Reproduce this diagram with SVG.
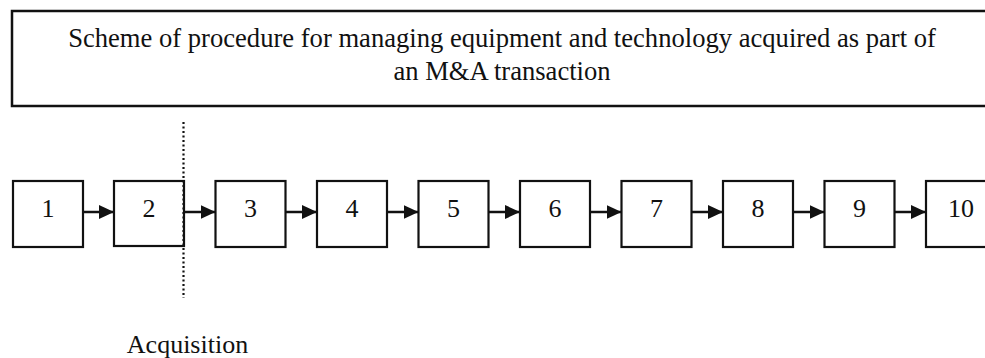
<svg xmlns="http://www.w3.org/2000/svg" width="985" height="358" viewBox="0 0 985 358">
  <style>
    .frame { fill: #fff; stroke: #111; stroke-width: 2.5; }
    .box { fill: #fff; stroke: #111; stroke-width: 2.2; }
    .lbl { font-family: "Liberation Serif", "Times New Roman", serif; font-size: 26px; fill: #111; text-anchor: middle; }
    .head { font-size: 26.6px; }
    .arrow { stroke: #111; stroke-width: 2.5; fill: none; marker-end: url(#head); }
    .divider { stroke: #111; stroke-width: 2.2; stroke-dasharray: 2 2.5; fill: none; }
  </style>
  <defs>
    <marker id="head" markerUnits="userSpaceOnUse" markerWidth="16" markerHeight="14" refX="15" refY="7" orient="auto">
      <path d="M0,0 L15,7 L0,14 Z" fill="#111"/>
    </marker>
  </defs>

  <rect width="985" height="358" fill="#fff"/>

  <!-- title panel -->
  <g id="title">
    <rect class="frame" x="12" y="11" width="990" height="95"/>
    <text class="lbl head" x="502" y="47">Scheme of procedure for managing equipment and technology acquired as part of</text>
    <text class="lbl head" x="502" y="80">an M&amp;A transaction</text>
  </g>

  <!-- step boxes -->
  <g id="step1"><rect class="box" x="13" y="181" width="70" height="66"/><text class="lbl" x="48" y="216.5">1</text></g>
  <g id="step2"><rect class="box" x="114" y="181" width="70" height="65"/><text class="lbl" x="149" y="216.5">2</text></g>
  <g id="step3"><rect class="box" x="215.5" y="181" width="70" height="66"/><text class="lbl" x="250.5" y="216.5">3</text></g>
  <g id="step4"><rect class="box" x="317" y="181" width="70" height="66"/><text class="lbl" x="352" y="216.5">4</text></g>
  <g id="step5"><rect class="box" x="418.5" y="181" width="70" height="66"/><text class="lbl" x="453.5" y="216.5">5</text></g>
  <g id="step6"><rect class="box" x="520" y="181" width="70" height="66"/><text class="lbl" x="555" y="216.5">6</text></g>
  <g id="step7"><rect class="box" x="621.5" y="181" width="70" height="66"/><text class="lbl" x="656.5" y="216.5">7</text></g>
  <g id="step8"><rect class="box" x="723" y="181" width="70" height="66"/><text class="lbl" x="758" y="216.5">8</text></g>
  <g id="step9"><rect class="box" x="824.5" y="181" width="70" height="66"/><text class="lbl" x="859.5" y="216.5">9</text></g>
  <g id="step10"><rect class="box" x="926" y="181" width="70" height="66"/><text class="lbl" x="961" y="216.5">10</text></g>

  <!-- connectors between steps -->
  <g id="connectors">
    <line class="arrow" x1="83" y1="212" x2="114" y2="212"/>
    <line class="arrow" x1="184" y1="212" x2="215.5" y2="212"/>
    <line class="arrow" x1="285.5" y1="212" x2="317" y2="212"/>
    <line class="arrow" x1="387" y1="212" x2="418.5" y2="212"/>
    <line class="arrow" x1="488.5" y1="212" x2="520" y2="212"/>
    <line class="arrow" x1="590" y1="212" x2="621.5" y2="212"/>
    <line class="arrow" x1="691.5" y1="212" x2="723" y2="212"/>
    <line class="arrow" x1="793" y1="212" x2="824.5" y2="212"/>
    <line class="arrow" x1="894.5" y1="212" x2="926" y2="212"/>
  </g>

  <!-- acquisition cut-off -->
  <g id="acquisition">
    <line class="divider" x1="183.5" y1="122" x2="183.5" y2="298"/>
    <text class="lbl" x="187.5" y="353">Acquisition</text>
  </g>
</svg>
